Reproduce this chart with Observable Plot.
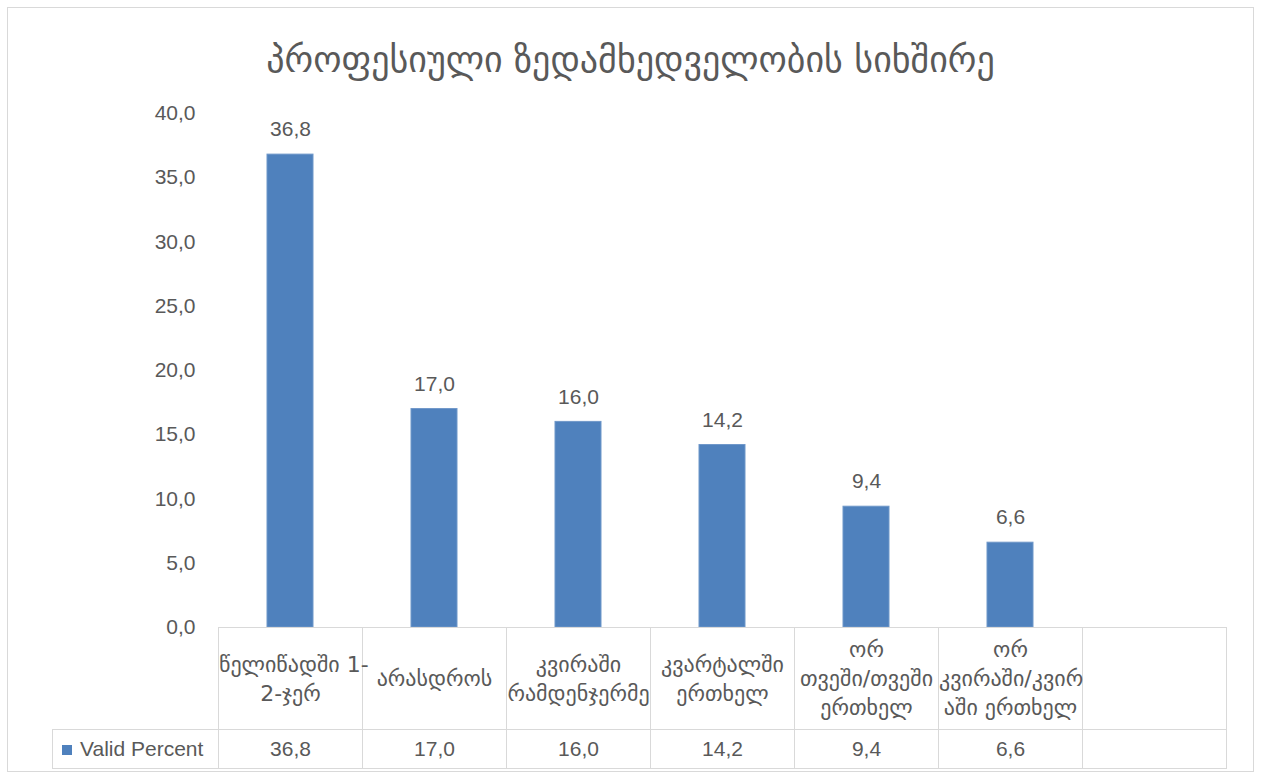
<!DOCTYPE html>
<html>
<head>
<meta charset="utf-8">
<script src="https://cdn.jsdelivr.net/npm/d3@7"></script>
<script src="https://cdn.jsdelivr.net/npm/@observablehq/plot@0.6"></script>
<style>
  body { margin: 0; background: #fff; color: #595959; font-family: "Liberation Sans", "DejaVu Sans", sans-serif; }
  #frame { position: absolute; left: 7px; top: 7px; width: 1247px; height: 765px; border: 1px solid #d9d9d9; box-sizing: border-box; }
  #title { position: absolute; left: 0; top: 38px; width: 1261px; text-align: center; font-family: "DejaVu Sans", sans-serif; font-size: 36px; line-height: 44px; color: #595959; }
  #chart { position: absolute; left: 0; top: 0; }
  #table { position: absolute; left: 52px; top: 627px; border-collapse: collapse; table-layout: fixed; }
  #table td { border: 1px solid #d9d9d9; padding: 0; text-align: center; vertical-align: middle; overflow: visible; white-space: nowrap; }
  #table td.blank { border-top: none; border-left: none; }
  #table tr.cats td { height: 101px; font-family: "DejaVu Sans", sans-serif; font-size: 22px; line-height: 29px; }
  #table tr.vals td { height: 38px; font-size: 21px; }
  #table td.key { text-align: left; padding-left: 9px; white-space: nowrap; }
  .swatch { display: inline-block; width: 10px; height: 10px; background: #4f81bd; margin-right: 8px; vertical-align: 1px; }
</style>
</head>
<body>
<div id="frame"></div>
<div id="title">პროფესიული ზედამხედველობის სიხშირე</div>
<div id="chart"></div>
<table id="table"></table>
<script>
// Frequency of professional supervision (valid percent)
const categories = [
  "წელიწადში 1-2-ჯერ",
  "არასდროს",
  "კვირაში რამდენჯერმე",
  "კვარტალში ერთხელ",
  "ორ თვეში/თვეში ერთხელ",
  "ორ კვირაში/კვირაში ერთხელ"
];
const values = [36.8, 17.0, 16.0, 14.2, 9.4, 6.6];
// category labels as they wrap in the data table
const categoryLines = [
  ["წელიწადში 1-", "2-ჯერ"],
  ["არასდროს"],
  ["კვირაში", "რამდენჯერმე"],
  ["კვარტალში", "ერთხელ"],
  ["ორ", "თვეში/თვეში", "ერთხელ"],
  ["ორ", "კვირაში/კვირ", "აში ერთხელ"]
];
const yTicks = [0, 5, 10, 15, 20, 25, 30, 35, 40];
const seriesName = "Valid Percent";
const emptySlot = "";

const fmt = v => v.toFixed(1).replace(".", ",");
const data = categories.map((c, i) => ({category: c, value: values[i]}));

const chart = Plot.plot({
  width: 1261,
  height: 640,
  marginTop: 113,
  marginBottom: 13,
  marginLeft: 218,
  marginRight: 34,
  style: {color: "#595959", fontFamily: "'Liberation Sans', sans-serif", fontSize: "21px", overflow: "visible", background: "transparent"},
  x: {domain: [...categories, emptySlot], paddingInner: 0.68, paddingOuter: 0.34, axis: null},
  y: {domain: [0, 40], axis: null},
  marks: [
    Plot.axisY({ticks: yTicks, tickSize: 0, tickPadding: 23, tickFormat: fmt, label: null, fontSize: 21, fill: "#595959"}),
    Plot.barY(data, {x: "category", y: "value", fill: "#4f81bd", stroke: "#6f97c9", strokeWidth: 1}),
    Plot.text(data, {x: "category", y: "value", text: d => fmt(d.value), dy: -25, fontSize: 21, fill: "#595959"})
  ]
});
document.getElementById("chart").appendChild(chart);

// Data table under the plot, columns aligned with the x bands
const xs = chart.scale("x");
const step = xs.step;
const firstCol = xs.range[0] - 52;
const table = d3.select("#table");
const colgroup = table.append("colgroup");
colgroup.append("col").style("width", firstCol + "px");
xs.domain.forEach(() => colgroup.append("col").style("width", step + "px"));
table.style("width", (firstCol + step * xs.domain.length) + "px");

const catRow = table.append("tr").attr("class", "cats");
catRow.append("td").attr("class", "blank");
xs.domain.forEach(c => {
  const i = categories.indexOf(c);
  catRow.append("td").html(i >= 0 ? categoryLines[i].join("<br>") : "");
});
const valRow = table.append("tr").attr("class", "vals");
valRow.append("td").attr("class", "key").html(`<span class="swatch"></span>${seriesName}`);
xs.domain.forEach(c => {
  const i = categories.indexOf(c);
  valRow.append("td").text(i >= 0 ? fmt(values[i]) : "");
});
</script>
</body>
</html>
